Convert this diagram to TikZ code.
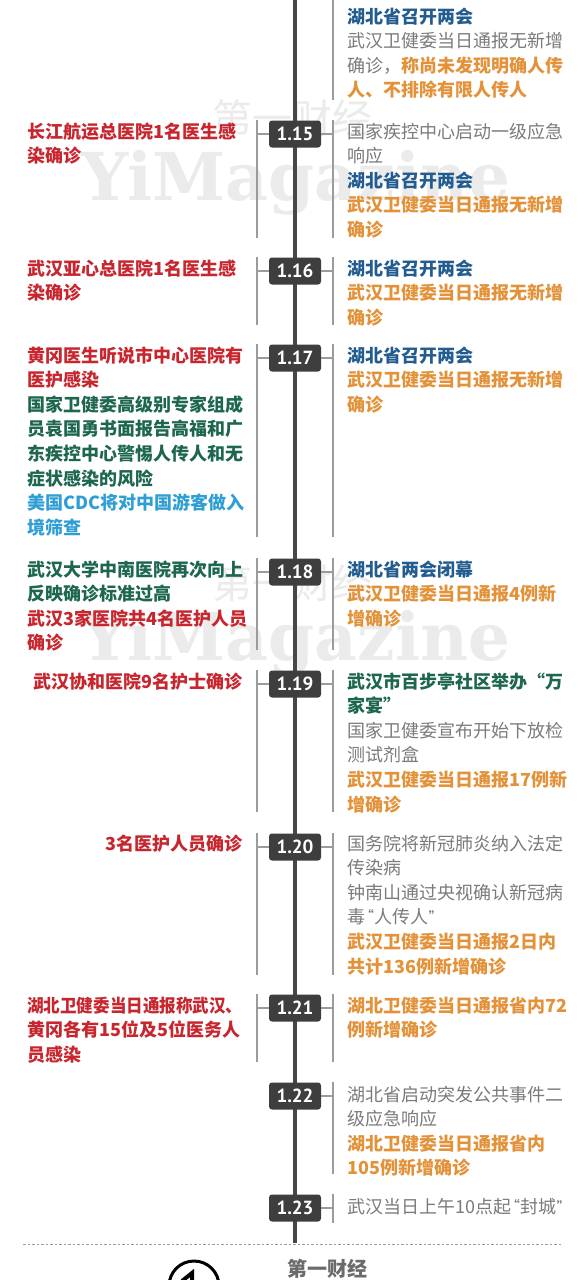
\documentclass[tikz,border=0pt]{standalone}
\usepackage{fontspec}
\usepackage{graphicx}
\setmainfont{Noto Sans CJK SC}
\newfontfamily\datefont{PT Sans}
\newfontfamily\wmfont{DejaVu Serif}
\definecolor{cred}{HTML}{C8262E}
\definecolor{corange}{HTML}{E3923A}
\definecolor{cblue}{HTML}{235C8F}
\definecolor{cgreen}{HTML}{1D6650}
\definecolor{clblue}{HTML}{2F9ED5}
\definecolor{cgray}{HTML}{7B7B7B}
\definecolor{cbox}{HTML}{3E3E3E}
\definecolor{cline}{HTML}{474747}
\definecolor{cbrk}{HTML}{9B9B9B}
\definecolor{cwm}{HTML}{EBEBEB}
\definecolor{cfoot}{HTML}{6B6B6B}
\newcommand{\tR}[1]{{\bfseries\color{cred}#1}}
\newcommand{\tO}[1]{{\bfseries\color{corange}#1}}
\newcommand{\tB}[1]{{\bfseries\color{cblue}#1}}
\newcommand{\tG}[1]{{\bfseries\color{cgreen}#1}}
\newcommand{\tL}[1]{{\bfseries\color{clblue}#1}}
\newcommand{\tY}[1]{{\color{cgray}#1}}
\newcommand{\myopenq}{{\datefont\,“}}
\newcommand{\mycloseq}{{\datefont ”}}
\begin{document}
\begin{tikzpicture}[x=1pt,y=-1pt,
  datebox/.style={fill=cbox, rounded corners=3pt, minimum width=52pt, minimum height=27pt, inner sep=0pt, text=white, font=\datefont\bfseries\fontsize{19}{19}\selectfont},
  txt/.style={anchor=base west, inner sep=0pt, text width=232pt, align=left, font=\fontsize{18}{24.6}\selectfont},
  lone/.style={anchor=base east, inner sep=0pt, font=\fontsize{18}{24.6}\selectfont},
  brk/.style={draw=cbrk, line width=1.1pt},
  wmen/.style={text=cwm, inner sep=0pt, anchor=base, font=\wmfont\bfseries\fontsize{66}{66}\selectfont},
  wmcn/.style={text=cwm, inner sep=0pt, font=\fontsize{40}{40}\selectfont},
]
\useasboundingbox (0,0) rectangle (587,1280);
\clip (0,0) rectangle (587,1280);
\fill[white] (0,0) rectangle (587,1280);

% watermarks
\node[wmcn] (wm1a) at (292,118) {第一财经};
\node[wmen] (wm1b) at (296,200) {YiMagazine};
\node[wmcn] (wm2a) at (292,583) {第一财经};
\node[wmen] (wm2b) at (296,660) {YiMagazine};

% central line
\coordinate (ctop) at (295,0);
\coordinate (cbot) at (295,1243);
\draw[cline, line width=4.5pt] (ctop) -- (cbot);

% top (continuation) bracket
\coordinate (r0t) at (333,0);
\coordinate (r0b) at (333,100);
\draw[brk] (r0t) -- (r0b);
\node[txt] (r0) at (347,23) {\tB{湖北省召开两会}\\\tY{武汉卫健委当日通报无新增}\\\tY{确诊，}\tO{称尚未发现明确人传}\\\tO{人、不排除有限人传人}};

% date boxes
\node[datebox] (d15) at (295,134) {1.15};
\node[datebox] (d16) at (295,271) {1.16};
\node[datebox] (d17) at (295,358) {1.17};
\node[datebox] (d18) at (295,572) {1.18};
\node[datebox] (d19) at (295,684) {1.19};
\node[datebox] (d20) at (295,847) {1.20};
\node[datebox] (d21) at (295,1008) {1.21};
\node[datebox] (d22) at (295,1096) {1.22};
\node[datebox] (d23) at (295,1208) {1.23};

% brackets: left and right, with ticks
\foreach \n/\c/\e in {15/134/238,16/271/325,17/358/537,18/572/650,19/684/812,20/847/975,21/1008/1062}{
  \coordinate (l\n t) at (257,\c-14);
  \coordinate (l\n b) at (257,\e);
  \coordinate (r\n t) at (333,\c-14);
  \coordinate (r\n b) at (333,\e);
  \draw[brk] (l\n t) -- (l\n b);
  \draw[brk] (r\n t) -- (r\n b);
  \draw[brk] (d\n.west) -- (d\n.west -| l\n t);
  \draw[brk] (d\n.east) -- (d\n.east -| r\n t);
}
\foreach \n/\c/\e in {22/1096/1174,23/1208/1223}{
  \coordinate (r\n t) at (333,\c-14);
  \coordinate (r\n b) at (333,\e);
  \draw[brk] (r\n t) -- (r\n b);
  \draw[brk] (d\n.east) -- (d\n.east -| r\n t);
}

% 1.15
\node[txt] (l15) at (27,138) {\tR{长江航运总医院1名医生感}\\\tR{染确诊}};
\node[txt] (r15) at (347,138) {\tY{国家疾控中心启动一级应急}\\\tY{响应}\\\tB{湖北省召开两会}\\\tO{武汉卫健委当日通报无新增}\\\tO{确诊}};
% 1.16
\node[txt] (l16) at (27,275) {\tR{武汉亚心总医院1名医生感}\\\tR{染确诊}};
\node[txt] (r16) at (347,275) {\tB{湖北省召开两会}\\\tO{武汉卫健委当日通报无新增}\\\tO{确诊}};
% 1.17
\node[txt] (l17) at (27,362) {\tR{黄冈医生听说市中心医院有}\\\tR{医护感染}\\\tG{国家卫健委高级别专家组成}\\\tG{员袁国勇书面报告高福和广}\\\tG{东疾控中心警惕人传人和无}\\\tG{症状感染的风险}\\\tL{美国CDC将对中国游客做入}\\\tL{境筛查}};
\node[txt] (r17) at (347,362) {\tB{湖北省召开两会}\\\tO{武汉卫健委当日通报无新增}\\\tO{确诊}};
% 1.18
\node[txt] (l18) at (27,576) {\tG{武汉大学中南医院再次向上}\\\tG{反映确诊标准过高}\\\tR{武汉3家医院共4名医护人员}\\\tR{确诊}};
\node[txt] (r18) at (347,576) {\tB{湖北省两会闭幕}\\\tO{武汉卫健委当日通报4例新}\\\tO{增确诊}};
% 1.19
\node[lone] (l19) at (243,688) {\tR{武汉协和医院9名护士确诊}};
\node[txt] (r19) at (347,688) {\tG{武汉市百步亭社区举办“万}\\\tG{家宴”}\\\tY{国家卫健委宣布开始下放检}\\\tY{测试剂盒}\\\tO{武汉卫健委当日通报17例新}\\\tO{增确诊}};
% 1.20
\node[lone] (l20) at (243,850) {\tR{3名医护人员确诊}};
\node[txt] (r20) at (347,850) {\tY{国务院将新冠肺炎纳入法定}\\\tY{传染病}\\\tY{钟南山通过央视确认新冠病}\\\tY{毒\myopenq 人传人\mycloseq}\\\tO{武汉卫健委当日通报2日内}\\\tO{共计136例新增确诊}};
% 1.21
\node[txt] (l21) at (27,1012) {\tR{\scalebox{0.92}[1]{湖北卫健委当日通报称武汉、}}\\\tR{黄冈各有15位及5位医务人}\\\tR{员感染}};
\node[txt] (r21) at (347,1012) {\tO{湖北卫健委当日通报省内72}\\\tO{例新增确诊}};
% 1.22
\node[txt] (r22) at (347,1101) {\tY{湖北省启动突发公共事件二}\\\tY{级应急响应}\\\tO{湖北卫健委当日通报省内}\\\tO{105例新增确诊}};
% 1.23
\node[txt] (r23) at (347,1213) {\tY{武汉当日上午10点起\myopenq 封城\mycloseq}};

% footer
\coordinate (dl) at (23,1244);
\coordinate (dr) at (563,1244);
\draw[cbrk, line width=1pt, dash pattern=on 2.5pt off 2pt] (dl) -- (dr);
\node[circle, draw=black, line width=3pt, minimum size=50pt, inner sep=0pt] (logo) at (194,1286) {};
\coordinate (one1) at (182,1281);
\coordinate (one2) at (192,1273);
\coordinate (one3) at (192,1300);
\draw[black, line width=4pt] (one1) -- (one2) -- (one3);
\node[text=cfoot, inner sep=0pt, font=\bfseries\fontsize{20}{20}\selectfont] (foot) at (327,1269) {第一财经};
\end{tikzpicture}
\end{document}
